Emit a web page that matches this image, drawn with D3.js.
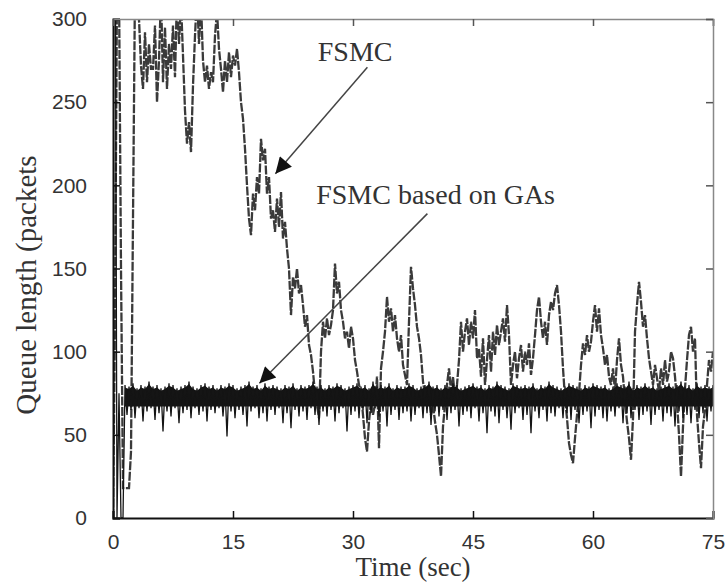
<!DOCTYPE html>
<html><head><meta charset="utf-8">
<script src="https://cdn.jsdelivr.net/npm/d3@7"></script>
<style>body{margin:0;background:#fff}svg{display:block}</style>
</head><body>
<script>
// ---- data ----
const xTicks = [0, 15, 30, 45, 60, 75];
const yTicks = [0, 50, 100, 150, 200, 250, 300];
const xLabel = "Time (sec)";
const yLabel = "Queue length (packets";
const seriesNames = ["FSMC", "FSMC based on GAs"];

// FSMC queue length sampled every 0.25 s from t = 0 to 75
const fsmcStep = 0.25;
const fsmcValues = [
  0,120,320,320,150,18,18,18,18,40,180,320,320,300,272,258,292,262,285,270,
  270,296,250,275,315,262,295,258,285,270,296,265,315,285,310,278,245,225,238,220,
  260,290,315,285,310,275,262,272,258,268,262,290,305,282,270,256,275,262,280,265,
  278,272,282,268,250,240,222,200,180,170,195,185,205,195,228,215,222,195,205,180,
  185,172,192,175,196,168,178,162,150,122,145,138,150,135,140,128,115,122,104,98,
  88,75,68,60,100,118,108,120,110,116,125,153,135,142,125,118,108,112,102,115,
  108,95,88,80,76,62,48,40,58,70,62,68,85,42,90,100,112,133,118,126,
  112,122,108,100,110,92,86,80,118,151,138,128,115,108,98,82,74,68,75,62,
  68,58,50,38,25,55,68,80,90,76,85,72,80,95,118,100,112,120,104,118,
  108,125,96,102,85,108,80,95,110,88,112,98,116,104,112,120,106,128,110,80,
  92,100,84,96,104,88,100,92,105,86,96,110,125,133,118,108,118,104,122,130,
  125,135,140,128,112,90,72,60,45,38,33,48,62,75,92,105,98,110,100,106,
  118,128,112,126,110,102,92,98,85,80,90,76,95,108,92,85,70,58,48,35,
  60,112,128,142,130,115,122,108,96,88,80,92,84,76,90,80,95,82,88,100,
  96,85,70,50,25,55,78,95,110,115,100,108,62,45,30,55,65,80,95,88,100
];

// FSMC based on GAs: start-up transient
const gaStartT = [0, 0.1, 0.3, 0.5, 0.75, 1.0, 1.25];
const gaStartV = [0, 320, 320, 0, 75, 0, 0];
// then band: upper / lower swing every 0.5 s from t = 1.5 to 75
const gaBandStart = 1.5;
const gaBandStep = 0.5;
const gaCoreLow = 67;   // lower edge of the dense part of the band
const gaUpper = [
  80,79,81,78,80,79,82,79,80,78,
  79,81,80,78,79,80,82,79,78,80,
  81,79,80,78,80,79,81,80,78,79,
  80,82,79,80,78,81,79,80,79,78,
  80,79,81,78,80,79,80,82,79,80,
  78,80,79,81,80,78,79,80,81,79,
  80,78,82,79,80,79,81,78,80,79,
  79,81,80,78,79,80,82,79,80,78,
  80,79,81,80,78,79,80,81,79,80,
  78,80,79,82,80,79,78,81,80,79,
  80,79,81,78,80,79,82,80,79,78,
  79,81,80,79,78,80,79,81,80,79,
  80,78,79,81,80,79,82,78,80,79,
  81,79,80,78,79,80,81,79,80,82,
  79,80,78,81,79,80,79,80
];
const gaLower = [
  62,65,60,66,58,64,66,59,63,52,
  64,61,66,57,63,65,60,66,62,64,
  58,65,63,66,61,49,64,60,65,62,
  55,64,66,60,63,58,65,62,66,57,
  63,54,65,61,64,59,66,62,56,64,
  61,65,58,63,66,52,62,64,60,65,
  57,63,66,61,64,55,62,65,59,63,
  64,58,62,66,60,63,56,64,61,65,
  59,63,65,55,62,64,60,66,58,63,
  51,64,61,57,65,60,53,63,66,59,
  62,51,64,60,65,58,63,61,66,60,
  63,59,65,57,62,64,54,61,65,60,
  58,64,61,66,57,63,60,65,59,62,
  64,56,62,65,58,63,61,55,64,60,
  62,57,65,60,63,58,64,61
];

// annotation anchor points (data units)
const annFSMC = {text: "FSMC", tx: 25.6, ty: 275, x1: 31.8, y1: 271, x2: 20.3, y2: 207};
const annGA = {text: "FSMC based on GAs", tx: 25.4, ty: 189, x1: 39.3, y1: 183, x2: 18.3, y2: 81};

// ---- chart ----
const W = 728, H = 582;
const m = {left: 113, right: 15, top: 19, bottom: 64};
const svg = d3.select("body").append("svg").attr("width", W).attr("height", H);
const x = d3.scaleLinear().domain([0, 75]).range([m.left, W - m.right]);
const y = d3.scaleLinear().domain([0, 300]).range([H - m.bottom, m.top]);

svg.append("clipPath").attr("id", "clip").append("rect")
  .attr("x", x(0)).attr("y", y(300)).attr("width", x(75) - x(0)).attr("height", y(0) - y(300));

const plot = svg.append("g").attr("clip-path", "url(#clip)");

// FSMC series
const fsmcPts = fsmcValues.map((v, i) => [i * fsmcStep, v]);
const line = d3.line().x(d => x(d[0])).y(d => y(d[1]));
plot.append("path").datum(fsmcPts).attr("d", line)
  .attr("fill", "none").attr("stroke", "#3a3a3a").attr("stroke-width", 2.3)
  .attr("stroke-dasharray", "9,1.5");

// GA series
const gaPts = gaStartT.map((t, i) => [t, gaStartV[i]]);
const bandPts = [];
gaUpper.forEach((u, i) => {
  const t = gaBandStart + i * gaBandStep;
  gaPts.push([t, u]);
  gaPts.push([t + gaBandStep / 2, gaLower[i]]);
  bandPts.push([t, u]);
});
plot.append("path").datum(bandPts)
  .attr("d", d3.area().x(d => x(d[0])).y0(y(gaCoreLow)).y1(d => y(d[1] - 1.5)))
  .attr("fill", "#141414");
plot.append("path").datum(gaPts.filter(d => d[0] <= 75)).attr("d", line)
  .attr("fill", "none").attr("stroke", "#151515").attr("stroke-width", 1.3);

// axes frame
const gx = svg.append("g").attr("transform", `translate(0,${y(0)})`)
  .call(d3.axisBottom(x).tickValues(xTicks).tickSize(-7).tickPadding(16).tickFormat(d3.format("d")));
const gy = svg.append("g").attr("transform", `translate(${x(0)},0)`)
  .call(d3.axisLeft(y).tickValues(yTicks).tickSize(-7).tickPadding(26).tickFormat(d3.format("d")));
const gt = svg.append("g").attr("transform", `translate(0,${y(300)})`)
  .call(d3.axisTop(x).tickValues(xTicks).tickSize(-7).tickFormat(""));
const gr = svg.append("g").attr("transform", `translate(${x(75)},0)`)
  .call(d3.axisRight(y).tickValues(yTicks).tickSize(-7).tickFormat(""));
[gx, gy].forEach(g => {
  g.select(".domain").attr("stroke", "#111").attr("stroke-width", 2);
  g.selectAll(".tick line").attr("stroke", "#111").attr("stroke-width", 1.5);
  g.selectAll("text").attr("font-family", "Liberation Sans, Arial, sans-serif")
    .attr("font-size", 21).attr("fill", "#333");
});
[gt, gr].forEach(g => {
  g.select(".domain").attr("stroke", "#888").attr("stroke-width", 1.5);
  g.selectAll(".tick line").attr("stroke", "#555").attr("stroke-width", 1.5);
});

// axis titles
svg.append("text").attr("x", (x(0) + x(75)) / 2).attr("y", 576)
  .attr("text-anchor", "middle").attr("font-family", "Liberation Serif, Times New Roman, serif")
  .attr("font-size", 27).attr("fill", "#333").text(xLabel);
svg.append("text").attr("transform", `translate(36,285) rotate(-90)`)
  .attr("text-anchor", "middle").attr("font-family", "Liberation Serif, Times New Roman, serif")
  .attr("font-size", 29).attr("fill", "#333").text(yLabel);

// annotations
svg.append("defs").append("marker").attr("id", "ah").attr("viewBox", "0 0 10 10")
  .attr("refX", 10).attr("refY", 5).attr("markerWidth", 22).attr("markerHeight", 16)
  .attr("markerUnits", "userSpaceOnUse").attr("orient", "auto")
  .append("path").attr("d", "M0,0 L10,5 L0,10 Z").attr("fill", "#111");
[annFSMC, annGA].forEach(a => {
  svg.append("line").attr("x1", x(a.x1)).attr("y1", y(a.y1)).attr("x2", x(a.x2)).attr("y2", y(a.y2))
    .attr("stroke", "#444").attr("stroke-width", 1.5).attr("marker-end", "url(#ah)");
  svg.append("text").attr("x", x(a.tx)).attr("y", y(a.ty))
    .attr("font-family", "Liberation Serif, Times New Roman, serif").attr("font-size", 28)
    .attr("fill", "#333").text(a.text);
});
</script>
</body></html>
